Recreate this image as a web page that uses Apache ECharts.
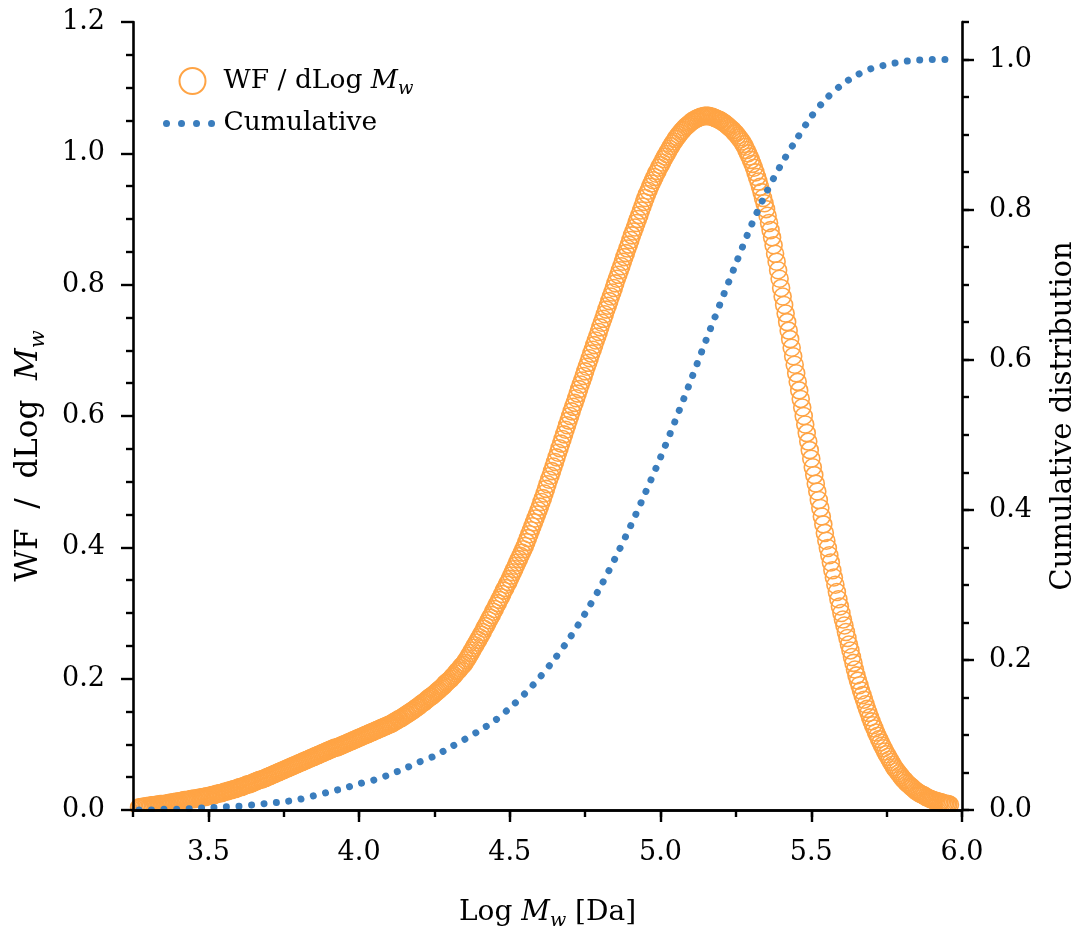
<!DOCTYPE html>
<html>
<head>
<meta charset="utf-8">
<script src="https://cdn.jsdelivr.net/npm/echarts@6/dist/echarts.min.js"></script>
<style>html,body{margin:0;padding:0;background:#fff}#c{width:1080px;height:930px}</style>
</head>
<body>
<div id="c"></div>
<script>
// ---- data ----
// WF / dLog Mw, sampled from Log Mw = 3.270 in steps of 0.005
const wfStart = 3.27;
const wfStep = 0.005;
const wfValues = [
0.004,0.004,0.005,0.005,0.005,0.006,
0.006,0.006,0.007,0.007,0.007,0.008,0.008,0.008,0.009,0.009,
0.009,0.009,0.010,0.010,0.011,0.011,0.011,0.012,0.012,0.013,
0.013,0.013,0.014,0.014,0.015,0.015,0.015,0.016,0.016,0.017,
0.017,0.017,0.018,0.018,0.019,0.019,0.019,0.020,0.020,0.021,
0.021,0.022,0.022,0.023,0.023,0.024,0.025,0.025,0.026,0.026,
0.027,0.028,0.028,0.029,0.030,0.030,0.031,0.032,0.032,0.033,
0.034,0.035,0.035,0.036,0.037,0.038,0.039,0.039,0.040,0.041,
0.042,0.043,0.044,0.045,0.046,0.046,0.047,0.048,0.049,0.050,
0.051,0.052,0.053,0.054,0.055,0.056,0.057,0.058,0.059,0.060,
0.061,0.062,0.063,0.064,0.065,0.066,0.067,0.068,0.069,0.070,
0.071,0.072,0.073,0.074,0.075,0.076,0.077,0.078,0.079,0.080,
0.081,0.082,0.083,0.084,0.085,0.086,0.087,0.088,0.089,0.090,
0.091,0.092,0.093,0.094,0.095,0.095,0.096,0.097,0.098,0.099,
0.100,0.101,0.102,0.103,0.104,0.105,0.106,0.107,0.108,0.109,
0.110,0.111,0.112,0.113,0.114,0.115,0.116,0.117,0.118,0.119,
0.120,0.121,0.122,0.123,0.124,0.125,0.126,0.127,0.128,0.129,
0.130,0.131,0.132,0.134,0.135,0.136,0.138,0.139,0.140,0.142,
0.143,0.145,0.146,0.148,0.149,0.151,0.152,0.154,0.156,0.157,
0.159,0.161,0.163,0.164,0.166,0.168,0.170,0.172,0.173,0.175,
0.177,0.179,0.181,0.183,0.185,0.187,0.189,0.192,0.194,0.196,
0.198,0.200,0.203,0.205,0.208,0.211,0.213,0.216,0.219,0.221,
0.224,0.228,0.231,0.235,0.239,0.243,0.247,0.251,0.255,0.259,
0.263,0.267,0.271,0.276,0.280,0.284,0.289,0.293,0.297,0.302,
0.306,0.311,0.315,0.320,0.324,0.329,0.334,0.338,0.343,0.347,
0.352,0.357,0.362,0.367,0.372,0.377,0.382,0.387,0.392,0.397,
0.402,0.408,0.414,0.420,0.426,0.432,0.438,0.444,0.450,0.456,
0.462,0.469,0.475,0.482,0.489,0.496,0.503,0.509,0.516,0.523,
0.530,0.537,0.544,0.551,0.558,0.565,0.572,0.579,0.586,0.593,
0.600,0.607,0.614,0.620,0.627,0.634,0.641,0.648,0.654,0.661,
0.668,0.675,0.681,0.688,0.695,0.701,0.708,0.715,0.721,0.728,
0.735,0.742,0.748,0.755,0.762,0.768,0.775,0.782,0.788,0.795,
0.802,0.809,0.815,0.822,0.828,0.835,0.842,0.848,0.855,0.861,
0.868,0.875,0.881,0.887,0.894,0.900,0.906,0.913,0.919,0.926,
0.932,0.938,0.943,0.949,0.954,0.959,0.964,0.969,0.973,0.978,
0.982,0.986,0.991,0.995,0.999,1.003,1.007,1.011,1.015,1.018,
1.022,1.025,1.028,1.031,1.034,1.036,1.039,1.041,1.043,1.045,
1.047,1.049,1.050,1.052,1.053,1.054,1.055,1.056,1.056,1.057,
1.057,1.057,1.057,1.056,1.056,1.055,1.054,1.053,1.052,1.051,
1.050,1.048,1.047,1.045,1.043,1.041,1.039,1.037,1.035,1.032,
1.030,1.027,1.024,1.021,1.018,1.014,1.010,1.005,1.000,0.995,
0.990,0.984,0.978,0.971,0.964,0.957,0.949,0.941,0.932,0.924,
0.915,0.905,0.894,0.883,0.872,0.860,0.847,0.835,0.822,0.809,
0.795,0.782,0.769,0.756,0.743,0.730,0.717,0.704,0.691,0.678,
0.665,0.652,0.639,0.626,0.613,0.600,0.587,0.574,0.561,0.548,
0.535,0.522,0.510,0.497,0.485,0.472,0.460,0.447,0.435,0.422,
0.410,0.399,0.388,0.377,0.365,0.354,0.343,0.332,0.321,0.310,
0.300,0.290,0.281,0.271,0.262,0.252,0.243,0.233,0.224,0.214,
0.205,0.197,0.190,0.182,0.175,0.168,0.161,0.154,0.148,0.141,
0.135,0.129,0.124,0.118,0.113,0.108,0.103,0.098,0.094,0.089,
0.085,0.081,0.077,0.073,0.069,0.065,0.062,0.059,0.056,0.053,
0.050,0.047,0.045,0.042,0.040,0.038,0.036,0.034,0.032,0.030,
0.028,0.027,0.025,0.024,0.023,0.022,0.020,0.019,0.018,0.017,
0.016,0.015,0.014,0.014,0.013,0.012,0.012,0.011,0.010,0.010,
0.009,0.009,0.008
];

// Cumulative distribution
const cumX = [3.27,3.30,3.35,3.40,3.45,3.50,3.55,3.60,3.65,3.70,3.75,3.80,3.85,3.90,3.95,
  4.00,4.05,4.10,4.15,4.20,4.25,4.30,4.35,4.40,4.45,4.50,4.55,4.60,4.65,4.70,4.75,4.80,4.85,4.90,4.95,
  5.00,5.05,5.10,5.15,5.20,5.25,5.30,5.35,5.40,5.45,5.50,5.55,5.60,5.65,5.70,5.75,5.80,5.85,5.90,5.95];
const cumY = [0.000,0.000,0.001,0.001,0.002,0.003,0.004,0.005,0.007,0.009,0.011,0.014,0.019,0.024,0.029,
  0.035,0.040,0.047,0.055,0.064,0.072,0.083,0.094,0.106,0.119,0.136,0.155,0.177,0.202,0.230,0.262,0.297,0.336,0.378,0.423,
  0.470,0.520,0.572,0.625,0.677,0.728,0.778,0.822,0.860,0.893,0.924,0.948,0.966,0.979,0.988,0.993,0.997,0.999,1.000,1.000];

// ticks
const xMajorTicks = [3.5, 4.0, 4.5, 5.0, 5.5, 6.0];
const rightMajorTicks = [0, 0.2, 0.4, 0.6, 0.8, 1.0];

// ---- chart ----
const FONT = 'DejaVu Serif';
const ORANGE = '#ffa445';
const BLUE = '#3a7dbd';
const BLACK = '#000';
const G = {left: 133, right: 118, top: 22, bottom: 120, containLabel: false, outerBoundsMode: 'none'};
function richFor(size) {
  return {
    i: {fontFamily: FONT, fontStyle: 'italic', fontSize: size, color: BLACK, verticalAlign: 'middle'},
    s: {fontFamily: FONT, fontStyle: 'italic', fontSize: Math.round(size * 0.68), color: BLACK, verticalAlign: 'bottom', lineHeight: Math.round(size * 1.28)}
  };
}
const axisLine = {show: true, lineStyle: {color: BLACK, width: 2.6}};

const chart = echarts.init(document.getElementById('c'), null, {renderer: 'canvas'});
const option = {
  animation: false,
  backgroundColor: '#fff',
  grid: [
    Object.assign({}, G),
    Object.assign({}, G)
  ],
  legend: {
    orient: 'vertical',
    left: 158,
    top: 62,
    itemWidth: 52,
    itemHeight: 26,
    itemGap: 12,
    selectedMode: false,
    textStyle: {fontFamily: FONT, fontSize: 26.5, color: BLACK, rich: richFor(26.5)},
    formatter: function (n) { return n === 'WF / dLog Mw' ? 'WF / dLog {i|M}{s|w}' : n; },
    data: [
      {name: 'WF / dLog Mw'},
      {name: 'Cumulative', itemStyle: {color: 'rgba(0,0,0,0)', borderWidth: 0},
       lineStyle: {width: 7, color: BLUE, type: [0.01, 15], cap: 'round'}}
    ]
  },
  xAxis: [
    {
      type: 'value', gridIndex: 0, position: 'bottom', min: 3.25, max: 6.0, z: 10,
      axisLine: axisLine,
      axisTick: {show: true, customValues: xMajorTicks, length: 12, lineStyle: {color: BLACK, width: 2.4}},
      axisLabel: {show: true, customValues: xMajorTicks, margin: 29, fontFamily: FONT, fontSize: 27, color: BLACK,
        formatter: function (v) { return v.toFixed(1); }},
      splitLine: {show: false},
      name: 'Log {i|M}{s|w} [Da]', nameLocation: 'middle', nameGap: 85,
      nameTextStyle: {fontFamily: FONT, fontSize: 28, color: BLACK, rich: richFor(28)}
    },
    {
      type: 'value', gridIndex: 0, position: 'top', min: 3.25, max: 6.0, z: 10,
      axisLine: axisLine, axisTick: {show: false}, axisLabel: {show: false}, splitLine: {show: false}
    },
    {
      type: 'value', gridIndex: 1, position: 'bottom', min: 3.25, max: 6.0, interval: 0.25, z: 10,
      axisLine: {show: false},
      axisTick: {show: true, length: 7, lineStyle: {color: BLACK, width: 2.4}},
      axisLabel: {show: false}, splitLine: {show: false}
    }
  ],
  yAxis: [
    {
      type: 'value', gridIndex: 0, position: 'left', min: 0, max: 1.2, interval: 0.2, z: 10,
      axisLine: axisLine,
      axisTick: {show: true, length: 12, lineStyle: {color: BLACK, width: 2.4}},
      minorTick: {show: true, splitNumber: 4, length: 7, lineStyle: {color: BLACK, width: 2.4}},
      axisLabel: {margin: 28, fontFamily: FONT, fontSize: 27, color: BLACK,
        formatter: function (v) { return v.toFixed(1); }},
      splitLine: {show: false},
      name: 'WF  /  dLog  {i|M}{s|w}', nameLocation: 'middle', nameRotate: 90, nameGap: 84,
      nameTextStyle: {fontFamily: FONT, fontSize: 31, color: BLACK, rich: richFor(31), padding: [0, 80, 0, 0]}
    },
    {
      type: 'value', gridIndex: 0, position: 'right', min: 0, max: 1.05, z: 10,
      axisLine: axisLine,
      axisTick: {show: true, customValues: rightMajorTicks, length: 12, lineStyle: {color: BLACK, width: 2.4}},
      axisLabel: {show: true, customValues: rightMajorTicks, margin: 27, fontFamily: FONT, fontSize: 27, color: BLACK,
        formatter: function (v) { return v.toFixed(1); }},
      splitLine: {show: false},
      name: 'Cumulative distribution', nameLocation: 'middle', nameRotate: 90, nameGap: 87,
      nameTextStyle: {fontFamily: FONT, fontSize: 29, color: BLACK}
    },
    {
      type: 'value', gridIndex: 1, position: 'right', min: 0, max: 1.05, interval: 0.05, z: 10,
      axisLine: {show: false},
      axisTick: {show: true, length: 7, lineStyle: {color: BLACK, width: 2.4}},
      axisLabel: {show: false}, splitLine: {show: false}
    }
  ],
  graphic: [
    {type: 'rect', z: 5, shape: {x: 110, y: 812, width: 870, height: 8}, style: {fill: '#fff'}}
  ],
  series: [
    {
      type: 'scatter', name: 'WF / dLog Mw', xAxisIndex: 0, yAxisIndex: 0, z: 2,
      data: wfValues.map(function (v, i) { return [wfStart + i * wfStep, v]; }),
      symbol: 'circle', symbolSize: 17,
      itemStyle: {color: 'rgba(255,255,255,0)', borderColor: ORANGE, borderWidth: 1.6, opacity: 1},
      emphasis: {disabled: true}
    },
    {
      type: 'line', name: 'Cumulative', xAxisIndex: 0, yAxisIndex: 1, z: 3,
      data: cumX.map(function (x, i) { return [x, cumY[i]]; }),
      symbol: 'none', showSymbol: false, smooth: 0.3,
      lineStyle: {color: BLUE, width: 7, type: [0.01, 12.5], cap: 'round'},
      itemStyle: {color: BLUE},
      emphasis: {disabled: true}
    }
  ]
};
chart.setOption(option);
</script>
</body>
</html>
